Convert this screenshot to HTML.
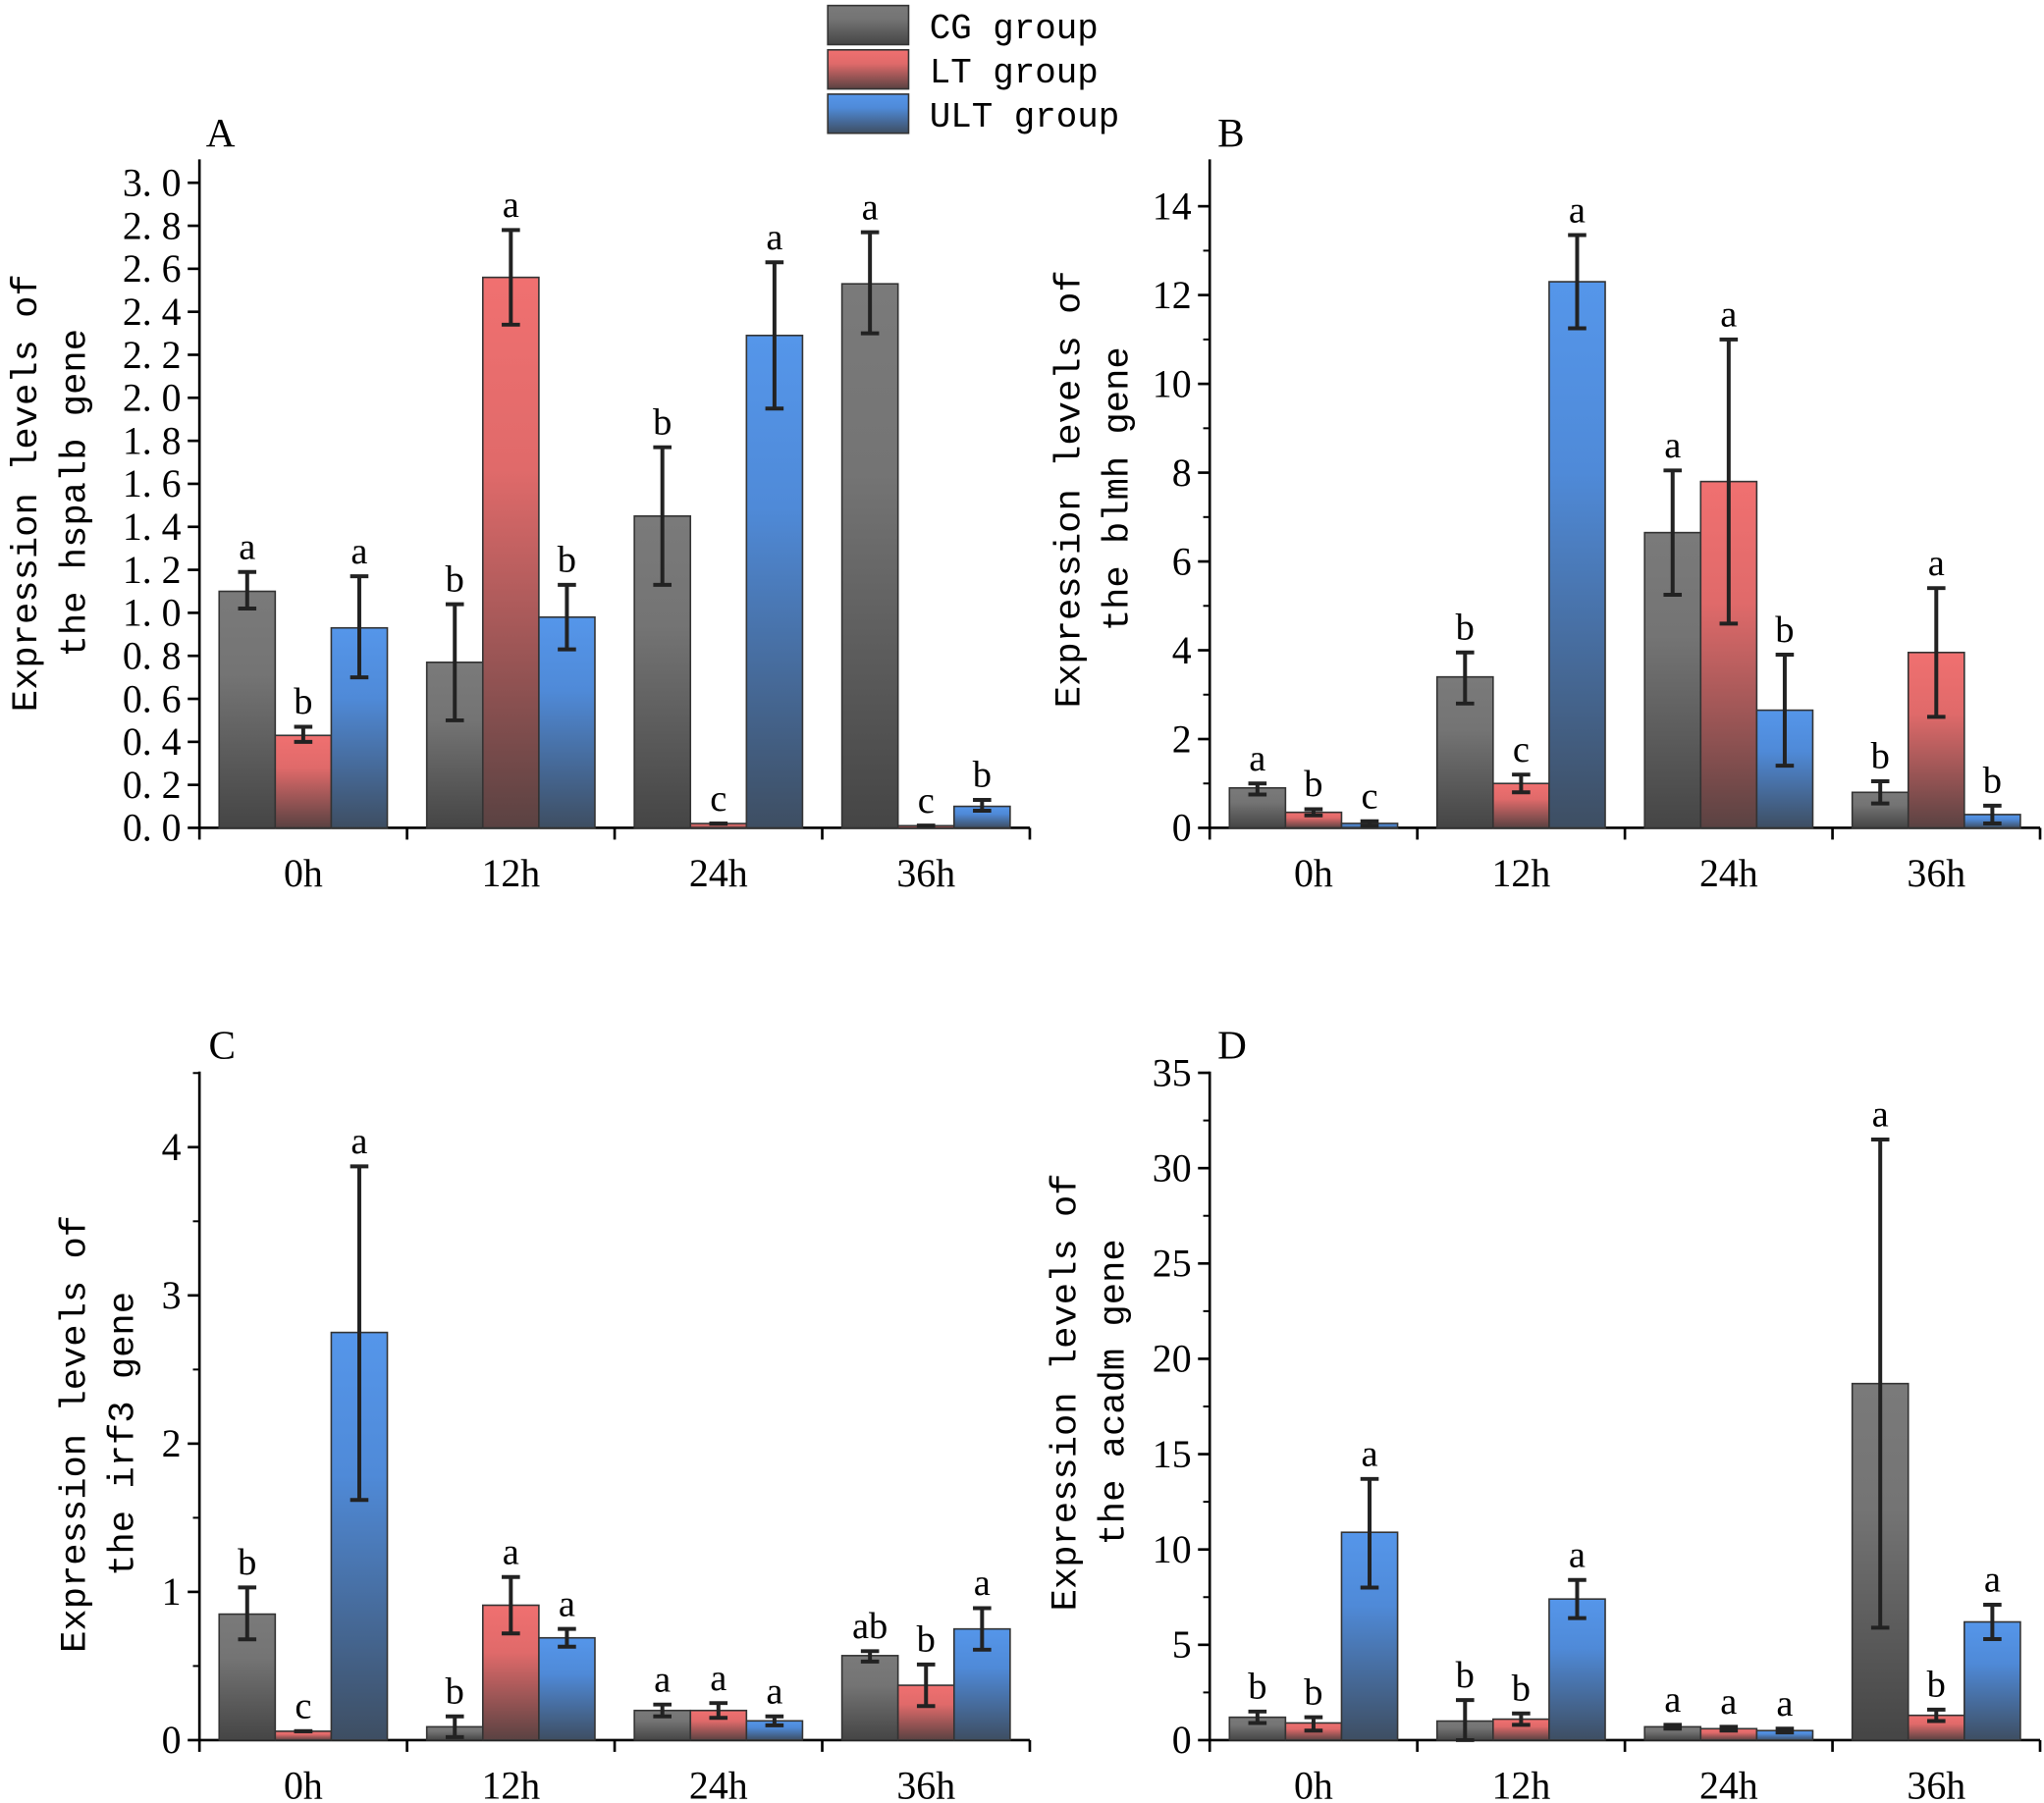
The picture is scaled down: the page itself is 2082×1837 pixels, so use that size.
<!DOCTYPE html>
<html><head><meta charset="utf-8"><style>
html,body{margin:0;padding:0;background:#fff;}
svg{display:block}
text{font-family:"Liberation Serif",serif;fill:#000}
.mono{font-family:"Liberation Mono",monospace}
</style></head><body>
<svg id="s" width="2082" height="1837" viewBox="0 0 1568 1383" xmlns="http://www.w3.org/2000/svg">
<defs>
<linearGradient id="gC" x1="0" y1="0" x2="0" y2="1"><stop offset="0" stop-color="#7a7a7a"/><stop offset="0.35" stop-color="#747474"/><stop offset="1" stop-color="#454545"/></linearGradient>
<linearGradient id="gL" x1="0" y1="0" x2="0" y2="1"><stop offset="0" stop-color="#f07070"/><stop offset="0.35" stop-color="#e06a6a"/><stop offset="1" stop-color="#5a4242"/></linearGradient>
<linearGradient id="gU" x1="0" y1="0" x2="0" y2="1"><stop offset="0" stop-color="#5596ea"/><stop offset="0.35" stop-color="#4f8ad8"/><stop offset="1" stop-color="#3e4e62"/></linearGradient>
</defs>
</svg>
<script>
const s=document.getElementById('s');let h='';
const fills=['url(#gC)','url(#gL)','url(#gU)'];
function panel(o){
 const {x0,x1,yb,yt,scale,ticks,fmt,minor,data,label,lx,ly,title,tx,ty}=o;
 const Y=v=>yb-v*scale;
 h+=`<line x1="${x0}" y1="${yt}" x2="${x0}" y2="${yb}" stroke="#000" stroke-width="2"/>`;
 h+=`<line x1="${x0}" y1="${yb}" x2="${x1}" y2="${yb}" stroke="#000" stroke-width="2"/>`;
 ticks.forEach(v=>{const y=Y(v);h+=`<line x1="${x0-9}" y1="${y}" x2="${x0}" y2="${y}" stroke="#000" stroke-width="2"/><text x="${x0-14}" y="${y+10}" font-size="30" text-anchor="end">${fmt(v)}</text>`;});
 (minor||[]).forEach(v=>{const y=Y(v);h+=`<line x1="${x0-5}" y1="${y}" x2="${x0}" y2="${y}" stroke="#000" stroke-width="1.5"/>`;});
 const gw=(x1-x0)/4;
 for(let g=0;g<=4;g++){const x=x0+g*gw;h+=`<line x1="${x}" y1="${yb}" x2="${x}" y2="${yb+9}" stroke="#000" stroke-width="2"/>`;}
 ['0h','12h','24h','36h'].forEach((t,g)=>{const c=x0+gw*(g+0.5);h+=`<text x="${c}" y="${yb+45}" font-size="30" text-anchor="middle">${t}</text>`;
  data[g].forEach((d,i)=>{const [v,hi,lo,l]=d;const bx=c-64.5+i*43;const y=Y(v);
   h+=`<rect x="${bx}" y="${y}" width="43" height="${yb-y}" fill="${fills[i]}" stroke="#333" stroke-width="1.2"/>`;
   const ex=bx+21.5;h+=`<g stroke="#222" stroke-width="3"><line x1="${ex}" y1="${Y(hi)}" x2="${ex}" y2="${Y(lo)}"/><line x1="${ex-7}" y1="${Y(hi)}" x2="${ex+7}" y2="${Y(hi)}"/><line x1="${ex-7}" y1="${Y(lo)}" x2="${ex+7}" y2="${Y(lo)}"/></g>`;
   h+=`<text x="${ex}" y="${Y(hi)-10}" font-size="29" text-anchor="middle">${l}</text>`;});});
 h+=`<text x="${lx}" y="${ly}" font-size="31">${label}</text>`;
 h+=`<g transform="translate(${tx},${ty}) rotate(-90)"><text class="mono" x="0" y="0" font-size="28" text-anchor="middle">${title[0]}</text><text class="mono" x="0" y="37" font-size="28" text-anchor="middle">${title[1]}</text></g>`;
}
const f1=v=>v.toFixed(1).replace('.','. ');
panel({x0:153,x1:790,yb:635,yt:122,scale:165,ticks:[0,.2,.4,.6,.8,1,1.2,1.4,1.6,1.8,2,2.2,2.4,2.6,2.8,3],fmt:f1,
 data:[[[1.10,1.19,1.02,'a'],[.43,.47,.40,'b'],[.93,1.17,.70,'a']],[[.77,1.04,.50,'b'],[2.56,2.78,2.34,'a'],[.98,1.13,.83,'b']],[[1.45,1.77,1.13,'b'],[.02,.02,.02,'c'],[2.29,2.63,1.95,'a']],[[2.53,2.77,2.30,'a'],[.01,.01,.01,'c'],[.10,.13,.08,'b']]],
 label:'A',lx:158,ly:112,title:['Expression levels of','the hspalb gene'],tx:28,ty:378});
panel({x0:928,x1:1565,yb:635,yt:122,scale:34.07,ticks:[0,2,4,6,8,10,12,14],fmt:v=>v,minor:[1,3,5,7,9,11,13],
 data:[[[.9,1.0,.75,'a'],[.35,.42,.28,'b'],[.1,.15,.05,'c']],[[3.4,3.95,2.8,'b'],[1.0,1.2,.8,'c'],[12.3,13.35,11.25,'a']],[[6.65,8.05,5.25,'a'],[7.8,11.0,4.6,'a'],[2.65,3.9,1.4,'b']],[[.8,1.05,.55,'b'],[3.95,5.4,2.5,'a'],[.3,.5,.1,'b']]],
 label:'B',lx:934,ly:112,title:['Expression levels of','the blmh gene'],tx:828,ty:375});
panel({x0:153,x1:790,yb:1335,yt:822,scale:113.75,ticks:[0,1,2,3,4],fmt:v=>v,minor:[.5,1.5,2.5,3.5,4.5],
 data:[[[.85,1.03,.68,'b'],[.06,.06,.06,'c'],[2.75,3.87,1.62,'a']],[[.09,.16,.02,'b'],[.91,1.10,.72,'a'],[.69,.75,.63,'a']],[[.20,.24,.16,'a'],[.20,.25,.15,'a'],[.13,.16,.10,'a']],[[.57,.60,.53,'ab'],[.37,.51,.23,'b'],[.75,.89,.61,'a']]],
 label:'C',lx:160,ly:812,title:['Expression levels of','the irf3 gene'],tx:65,ty:1100});
panel({x0:928,x1:1565,yb:1335,yt:822,scale:14.63,ticks:[0,5,10,15,20,25,30,35],fmt:v=>v,minor:[2.5,7.5,12.5,17.5,22.5,27.5,32.5],
 data:[[[1.2,1.5,.9,'b'],[.9,1.2,.5,'b'],[10.9,13.7,8.0,'a']],[[1.0,2.1,0,'b'],[1.1,1.4,.8,'b'],[7.4,8.4,6.4,'a']],[[.7,.8,.6,'a'],[.6,.7,.5,'a'],[.5,.6,.4,'a']],[[18.7,31.5,5.9,'a'],[1.3,1.6,1.0,'b'],[6.2,7.1,5.3,'a']]],
 label:'D',lx:934,ly:812,title:['Expression levels of','the acadm gene'],tx:825,ty:1068});
[['CG group','url(#gC)',4],['LT group','url(#gL)',38],['ULT group','url(#gU)',72]].forEach(([t,f,y])=>{
 h+=`<rect x="635" y="${y}" width="62" height="30" fill="${f}" stroke="#333" stroke-width="1.2"/><text class="mono" x="713" y="${y+25}" font-size="27">${t}</text>`;});
s.insertAdjacentHTML('beforeend',h);
</script>
</body></html>
